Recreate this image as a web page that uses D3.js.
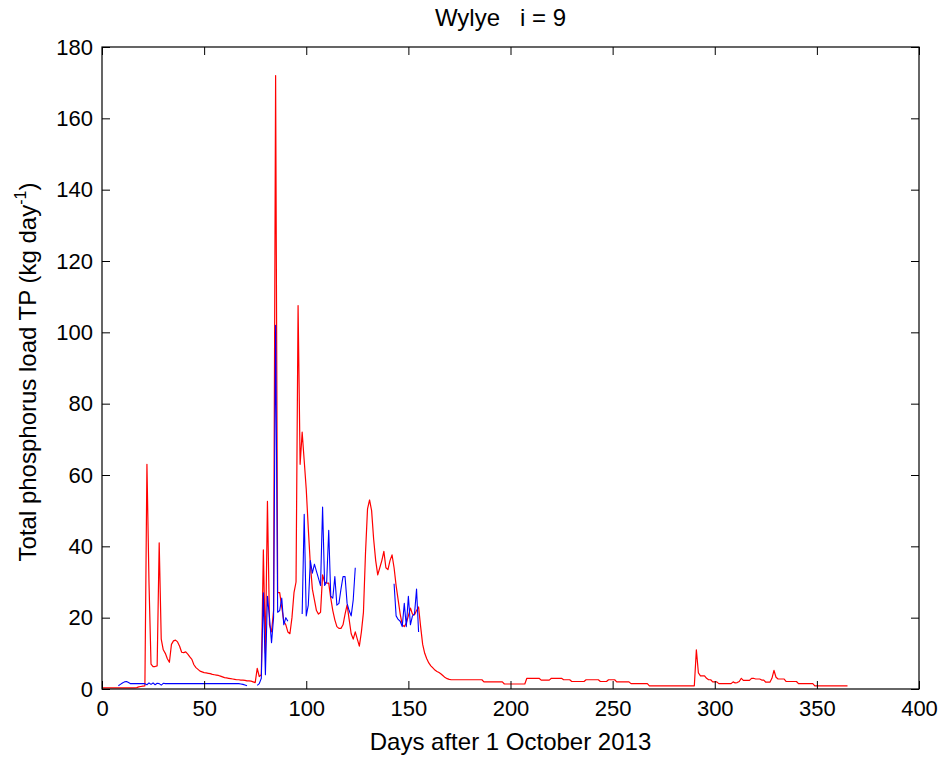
<!DOCTYPE html>
<html>
<head>
<meta charset="utf-8">
<script src="https://cdn.jsdelivr.net/npm/d3@7"></script>
<style>
  body { margin: 0; background: #fff; }
  svg { display: block; font-family: "Liberation Sans", Arial, sans-serif; }
</style>
</head>
<body>
<svg id="chart" width="946" height="761"></svg>
<script>
// ---- Data ----
const titleText = "Wylye   i = 9";
const xLabel = "Days after 1 October 2013";
const xTicks = [0, 50, 100, 150, 200, 250, 300, 350, 400];
const yTicks = [0, 20, 40, 60, 80, 100, 120, 140, 160, 180];

// Red series: daily values, day 0 .. 365
const redValues = [
  0.3,0.3,0.3,0.3,0.3,0.3,0.3,0.3,0.3,0.3,
  0.3,0.3,0.3,0.3,0.3,0.3,0.3,0.4,0.6,0.7,
  0.8,0.9,63,30,7,6.3,6.3,6.5,41,14,
  11,10,8.5,7.5,12.5,13.5,13.7,13.2,12,10.3,
  10.2,10.4,9.8,9,8.3,6.8,6,5.5,5,4.8,
  4.6,4.5,4.4,4.3,4.1,4,3.9,3.8,3.6,3.4,
  3.2,3.1,3,2.9,2.8,2.7,2.6,2.6,2.5,2.5,
  2.4,2.3,2.3,2.2,2,1.8,5.8,3.5,4,39,
  10,52.6,18,16,22,172,27,27,23,19,
  18,16,15.5,20,27,30,107.5,63,72,64,
  56,45,35,28,25,22,21,21.5,32,30,
  29.7,29.7,25.5,22,19.4,17.5,17,17,18,21,
  23.6,19.5,15.5,14,16,14,12,16,21.5,38,
  50.5,53,50,42,36,32,34,36,38.6,34,
  33.5,36,37.6,34,29,25,21,18,17.5,18.5,
  20.5,22.7,21,20.8,22,23,17.5,12.5,10,8.5,
  7.3,6.5,5.9,5.3,4.9,4.6,4.2,3.7,3.2,2.9,
  2.7,2.6,2.6,2.6,2.6,2.6,2.6,2.6,2.6,2.6,
  2.6,2.6,2.6,2.6,2.6,2.6,2.6,2.0,2.0,2.0,
  2.0,2.0,2.0,2.0,2.0,2.0,2.0,1.4,1.4,1.4,
  1.4,1.4,1.4,1.4,1.4,1.4,1.4,1.4,3.0,3.0,
  3.0,3.0,3.0,3.0,3.0,2.5,2.5,2.5,2.5,2.5,
  3.0,3.0,3.0,3.0,3.0,3.0,2.6,2.6,2.6,2.6,
  2.1,2.1,2.1,2.1,2.1,2.1,2.1,2.6,2.6,2.6,
  2.6,2.6,2.6,2.6,2.1,2.1,2.1,2.1,2.6,2.6,
  2.6,2.6,2.0,2.0,2.0,2.0,2.0,2.0,2.0,1.5,
  1.5,1.5,1.5,1.5,1.5,1.5,1.5,1.5,0.9,0.9,
  0.9,0.9,0.9,0.9,0.9,0.9,0.9,0.9,0.9,0.9,
  0.9,0.9,0.9,0.9,0.9,0.9,0.9,0.9,0.9,0.9,
  0.9,11,4.5,3.7,3.7,3.7,3.0,2.6,2.6,2.0,
  2.0,2.0,1.5,1.5,1.5,1.5,1.5,1.5,1.5,2.0,
  1.7,1.8,2.1,3.0,2.4,2.4,2.4,2.4,3.0,3.0,
  2.8,2.8,2.8,2.5,2.5,1.9,1.9,1.9,3.0,5.2,
  3.3,2.8,2.8,2.8,2.8,2.1,2.1,2.1,2.1,2.1,
  2.1,1.5,1.5,1.5,1.5,1.5,1.5,1.5,1.5,0.9,
  0.9,0.9,0.9,0.9,0.9,0.9,0.9,0.9,0.9,0.9,
  0.9,0.9,0.9,0.9,0.9,0.9
];

// Blue series: daily values in separate runs (start day of each run)
const blueStartDays = [8, 76, 98, 143];
const blueRun1 = [
  0.9,1.3,1.7,2.0,2.1,1.8,1.5,1.5,1.5,1.5,
  1.5,1.5,1.5,1.5,1.2,1.7,1.3,1.7,1.2,1.6,
  1.5,1.1,1.6,1.5,1.5,1.5,1.5,1.5,1.5,1.5,
  1.5,1.5,1.5,1.5,1.5,1.5,1.5,1.5,1.5,1.5,
  1.5,1.5,1.5,1.5,1.5,1.5,1.5,1.5,1.5,1.5,
  1.5,1.5,1.5,1.5,1.5,1.5,1.5,1.5,1.5,1.5,
  1.4,1.3,1.1,0.9
];
const blueRun2 = [1, 1.5, 3, 27, 4, 26, 20, 13, 20, 102, 21.5, 22, 25.5, 18, 20, 19];
const blueRun3 = [21, 49, 20.5, 23.5, 36, 32.5, 35, 33, 31, 29, 51, 29, 30, 44.5, 26,
                  25.5, 31.5, 23.5, 24, 28, 31.5, 31.5, 24, 22, 20.5, 25, 34];
const blueRun4 = [29.5, 20.5, 19.5, 19, 17.5, 24, 17.5, 26, 18, 20.5, 21, 28, 16];
const blueRuns = [blueRun1, blueRun2, blueRun3, blueRun4];

// ---- Layout ----
const svg = d3.select("#chart");
const L = 102, R = 919, T = 47, B = 689;
const x = d3.scaleLinear().domain([0, 400]).range([L, R]);
const y = d3.scaleLinear().domain([0, 180]).range([B, T]);

const line = d3.line().x(d => x(d[0])).y(d => y(d[1]));

svg.append("rect").attr("x", 0).attr("y", 0).attr("width", 946).attr("height", 761).attr("fill", "#fff");

// Red line
const redPts = redValues.map((v, i) => [i, v]);
svg.append("path").datum(redPts)
  .attr("d", line).attr("fill", "none").attr("stroke", "#ff0000")
  .attr("stroke-width", 1.2).attr("stroke-linejoin", "round");

// Blue runs
blueRuns.forEach((run, k) => {
  const pts = run.map((v, i) => [blueStartDays[k] + i, v]);
  svg.append("path").datum(pts)
    .attr("d", line).attr("fill", "none").attr("stroke", "#0000ff")
    .attr("stroke-width", 1.1).attr("stroke-linejoin", "round");
});

// Axes (MATLAB style: inward ticks on all four sides)
const fsTick = 22, fsLabel = 24;
const gx = svg.append("g").attr("transform", `translate(0,${B})`)
  .call(d3.axisBottom(x).tickValues(xTicks).tickSize(-8).tickPadding(11).tickFormat(d3.format("d")));
const gxt = svg.append("g").attr("transform", `translate(0,${T})`)
  .call(d3.axisTop(x).tickValues(xTicks).tickSize(-8).tickFormat(""));
const gy = svg.append("g").attr("transform", `translate(${L},0)`)
  .call(d3.axisLeft(y).tickValues(yTicks).tickSize(-8).tickPadding(9).tickFormat(d3.format("d")));
const gyr = svg.append("g").attr("transform", `translate(${R},0)`)
  .call(d3.axisRight(y).tickValues(yTicks).tickSize(-8).tickFormat(""));

[gx, gxt, gy, gyr].forEach(g => {
  g.select(".domain").remove();
  g.selectAll(".tick line").attr("stroke", "#000").attr("stroke-width", 1);
  g.selectAll(".tick text").attr("font-size", fsTick).attr("fill", "#000")
    .attr("font-family", "'Liberation Sans', Arial, sans-serif");
});

// Box
svg.append("rect").attr("x", L).attr("y", T).attr("width", R - L).attr("height", B - T)
  .attr("fill", "none").attr("stroke", "#000").attr("stroke-width", 1.2);

// Title
svg.append("text").attr("x", (L + R) / 2 - 10).attr("y", 26)
  .attr("text-anchor", "middle").attr("font-size", fsLabel).attr("fill", "#000")
  .style("white-space", "pre").text(titleText);

// X label
svg.append("text").attr("x", (L + R) / 2).attr("y", 750)
  .attr("text-anchor", "middle").attr("font-size", fsLabel).attr("fill", "#000")
  .text(xLabel);

// Y label with superscript
const yl = svg.append("text")
  .attr("transform", `translate(36,${(T + B) / 2 + 4}) rotate(-90)`)
  .attr("text-anchor", "middle").attr("font-size", fsLabel).attr("fill", "#000");
yl.append("tspan").text("Total phosphorus load TP (kg day");
yl.append("tspan").attr("font-size", 16).attr("dy", -10).text("-1");
yl.append("tspan").attr("dy", 10).text(")");
</script>
</body>
</html>
